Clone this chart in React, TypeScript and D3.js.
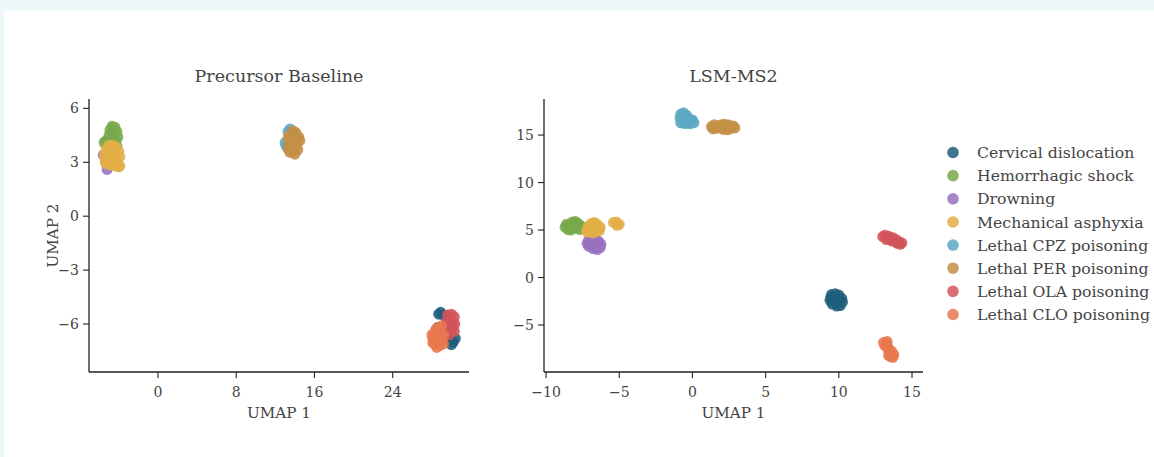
import React from "react";
import * as d3 from "d3";

type Pt = [number, number];

const classes = [
  "Cervical dislocation",
  "Hemorrhagic shock",
  "Drowning",
  "Mechanical asphyxia",
  "Lethal CPZ poisoning",
  "Lethal PER poisoning",
  "Lethal OLA poisoning",
  "Lethal CLO poisoning",
];
const palette = ["#1f5e7c", "#78a84a", "#9a70c0", "#e2ae46", "#5ca8c4", "#c38f46", "#d3535a", "#e8784e"];

// Precursor Baseline embedding, one list per class
const baseCervical: Pt[] = [[28.7, -5.45], [28.9, -5.35], [29.2, -5.5], [30.2, -7.0], [30.4, -6.8], [29.5, -6.0], [28.6, -6.2], [29.8, -6.9], [30.0, -7.15]];
const baseHemorrhagic: Pt[] = [[-4.7, 5.0], [-4.4, 4.95], [-4.9, 4.8], [-4.2, 4.7], [-4.5, 4.6], [-5.0, 4.5], [-4.1, 4.4], [-5.3, 4.2], [-4.7, 4.3], [-4.3, 4.15], [-5.5, 4.1], [-4.9, 4.0], [-4.2, 3.9], [-5.0, 3.7]];
const baseDrowning: Pt[] = [[-5.2, 2.6], [-5.6, 3.4], [-5.3, 3.0], [-4.9, 3.2]];
const baseMechanical: Pt[] = [[-5.0, 3.95], [-4.6, 3.95], [-4.3, 3.85], [-5.3, 3.7], [-4.0, 3.6], [-4.8, 3.6], [-5.5, 3.4], [-4.4, 3.4], [-3.9, 3.3], [-5.1, 3.25], [-4.7, 3.1], [-5.4, 3.0], [-4.2, 3.0], [-4.9, 2.85], [-4.4, 2.8], [-3.9, 2.8], [-5.2, 2.9], [-4.6, 3.5], [-4.0, 2.75]];
const baseCPZ: Pt[] = [[13.5, 4.85], [13.3, 4.7], [13.0, 4.1], [13.1, 3.9], [13.6, 4.3], [14.0, 4.5], [13.4, 3.7]];
const basePER: Pt[] = [[13.8, 4.75], [14.1, 4.65], [13.5, 4.55], [14.4, 4.4], [13.3, 4.35], [13.9, 4.3], [14.5, 4.2], [13.4, 4.0], [14.2, 4.0], [13.7, 3.95], [13.3, 3.75], [14.3, 3.7], [13.8, 3.6], [14.0, 3.45], [13.5, 3.55], [13.9, 4.1]];
const baseOLA: Pt[] = [[29.6, -5.5], [30.0, -5.45], [30.3, -5.6], [29.5, -5.9], [29.9, -5.85], [30.35, -6.0], [29.6, -6.3], [30.0, -6.3], [30.3, -6.4], [29.8, -6.6], [29.4, -6.1], [30.1, -6.1]];
const baseCLO: Pt[] = [[28.6, -6.2], [29.0, -6.1], [28.3, -6.5], [28.8, -6.5], [29.2, -6.6], [28.1, -6.8], [28.6, -6.8], [29.0, -6.9], [28.3, -7.1], [28.8, -7.2], [28.5, -7.3], [29.2, -7.1], [28.0, -6.6], [28.4, -6.3], [28.1, -7.05]];

// LSM-MS2 embedding, one list per class
const lsmCervical: Pt[] = [[9.5, -1.8], [9.75, -1.7], [10.0, -1.85], [10.2, -2.2], [10.25, -2.6], [10.1, -2.95], [9.85, -3.0], [9.55, -2.8], [9.4, -2.4], [9.45, -2.1], [9.8, -2.3], [9.95, -2.6], [9.7, -2.6]];
const lsmHemorrhagic: Pt[] = [[-8.7, 5.3], [-8.6, 5.6], [-8.5, 5.05], [-8.3, 5.5], [-8.2, 5.85], [-8.0, 5.9], [-7.8, 5.7], [-7.6, 5.4], [-7.7, 5.05], [-8.0, 5.2], [-8.3, 5.0], [-7.9, 5.5], [-8.45, 5.35], [-7.5, 5.25]];
const lsmDrowning: Pt[] = [[-7.1, 3.9], [-6.9, 4.05], [-6.6, 4.0], [-6.4, 3.8], [-6.25, 3.5], [-6.3, 3.15], [-6.5, 2.95], [-6.8, 3.05], [-7.1, 3.3], [-7.2, 3.6], [-6.7, 3.5], [-6.5, 3.3], [-6.9, 3.6]];
const lsmMechanical: Pt[] = [[-7.2, 5.0], [-7.1, 5.4], [-6.9, 5.7], [-6.7, 5.8], [-6.5, 5.6], [-6.3, 5.3], [-6.35, 4.95], [-6.6, 4.8], [-6.9, 4.75], [-7.0, 5.2], [-6.7, 5.3], [-6.5, 5.05], [-6.8, 4.7], [-7.2, 4.8], [-5.4, 5.8], [-5.15, 5.5], [-5.2, 5.85], [-5.0, 5.6]];
const lsmCPZ: Pt[] = [[-0.8, 17.2], [-0.6, 17.35], [-0.4, 17.1], [-0.85, 16.8], [-0.55, 16.75], [-0.25, 16.7], [-0.05, 16.5], [0.1, 16.3], [-0.3, 16.3], [-0.7, 16.4], [-0.5, 16.2], [-0.15, 16.2], [-0.8, 16.3], [0.0, 16.6], [-0.45, 16.5]];
const lsmPER: Pt[] = [[1.3, 15.9], [1.5, 16.1], [1.6, 15.7], [1.8, 15.95], [2.0, 16.1], [2.1, 15.6], [2.3, 15.85], [2.5, 16.05], [2.6, 15.7], [2.8, 15.95], [2.9, 15.75], [2.2, 16.15], [1.4, 15.65], [2.4, 15.55], [1.9, 15.75]];
const lsmOLA: Pt[] = [[13.0, 4.3], [13.15, 4.45], [13.3, 4.2], [13.4, 4.35], [13.55, 4.1], [13.7, 4.2], [13.8, 3.9], [13.95, 3.95], [14.1, 3.7], [14.3, 3.65], [14.2, 3.5], [13.6, 3.85], [13.25, 4.0], [14.0, 3.6], [13.9, 3.75]];
const lsmCLO: Pt[] = [[13.05, -6.85], [13.3, -6.75], [13.15, -7.2], [13.35, -7.35], [13.4, -7.7], [13.6, -7.75], [13.75, -8.1], [13.55, -8.35], [13.4, -8.2], [13.7, -8.4], [13.25, -7.0]];

const baseSeries = [baseCervical, baseHemorrhagic, baseDrowning, baseMechanical, baseCPZ, basePER, baseOLA, baseCLO];
const lsmSeries = [lsmCervical, lsmHemorrhagic, lsmDrowning, lsmMechanical, lsmCPZ, lsmPER, lsmOLA, lsmCLO];

const baseXTicks = [0, 8, 16, 24];
const baseYTicks = [-6, -3, 0, 3, 6];
const lsmXTicks = [-10, -5, 0, 5, 10, 15];
const lsmYTicks = [-5, 0, 5, 10, 15];

const FONT = "'DejaVu Serif', serif";
const TEXT = "#444";
const AXIS = "#222";

const fmt = (v: number) => (v < 0 ? "\u2212" + Math.abs(v) : String(v));

interface PanelProps {
  title: string;
  left: number;
  right: number;
  top: number;
  bottom: number;
  xDomain: [number, number];
  yDomain: [number, number];
  xTicks: number[];
  yTicks: number[];
  series: Pt[][];
  yLabel?: string;
}

function Panel(p: PanelProps) {
  const x = d3.scaleLinear().domain(p.xDomain).range([p.left, p.right]);
  const y = d3.scaleLinear().domain(p.yDomain).range([p.bottom, p.top]);
  const cx = (p.left + p.right) / 2;
  return (
    <g>
      <text x={cx} y={82} textAnchor="middle" fontFamily={FONT} fontSize={17.5} fill={TEXT}>
        {p.title}
      </text>
      {p.series.map((pts, i) => (
        <g key={i} fill={palette[i]} fillOpacity={0.88}>
          {pts.map((d, j) => (
            <circle key={j} cx={x(d[0])} cy={y(d[1])} r={5.5} />
          ))}
        </g>
      ))}
      <line x1={p.left} x2={p.left} y1={p.top} y2={p.bottom} stroke={AXIS} strokeWidth={1.3} />
      <line x1={p.left} x2={p.right} y1={p.bottom} y2={p.bottom} stroke={AXIS} strokeWidth={1.3} />
      {p.xTicks.map((t) => (
        <g key={"x" + t}>
          <line x1={x(t)} x2={x(t)} y1={p.bottom} y2={p.bottom + 6} stroke={AXIS} strokeWidth={1.1} />
          <text x={x(t)} y={397} textAnchor="middle" fontFamily={FONT} fontSize={14} fill={TEXT}>
            {fmt(t)}
          </text>
        </g>
      ))}
      {p.yTicks.map((t) => (
        <g key={"y" + t}>
          <line x1={p.left - 6} x2={p.left} y1={y(t)} y2={y(t)} stroke={AXIS} strokeWidth={1.1} />
          <text x={p.left - 10} y={y(t)} dy="0.36em" textAnchor="end" fontFamily={FONT} fontSize={14} fill={TEXT}>
            {fmt(t)}
          </text>
        </g>
      ))}
      <text x={cx} y={418} textAnchor="middle" fontFamily={FONT} fontSize={15.2} fill={TEXT}>
        UMAP 1
      </text>
      {p.yLabel && (
        <text
          transform={`translate(58,${(p.top + p.bottom) / 2}) rotate(-90)`}
          textAnchor="middle"
          fontFamily={FONT}
          fontSize={15.2}
          fill={TEXT}
        >
          {p.yLabel}
        </text>
      )}
    </g>
  );
}

export default function App() {
  const legendY = d3.scaleLinear().domain([0, 7]).range([152.5, 314.5]);
  return (
    <div style={{ position: "fixed", left: 0, top: 0, width: 1154, height: 457 }}>
      <svg width={1154} height={457} style={{ display: "block" }}>
        <rect x={0} y={0} width={1154} height={457} fill="#eef7f9" />
        <rect x={4} y={11} width={1150} height={446} fill="#ffffff" />
        <Panel
          title="Precursor Baseline"
          left={89}
          right={469}
          top={99}
          bottom={372}
          xDomain={[-7.05, 31.8]}
          yDomain={[-8.67, 6.52]}
          xTicks={baseXTicks}
          yTicks={baseYTicks}
          series={baseSeries}
          yLabel="UMAP 2"
        />
        <Panel
          title="LSM-MS2"
          left={544}
          right={923}
          top={99}
          bottom={372}
          xDomain={[-10.14, 15.75]}
          yDomain={[-9.95, 18.8]}
          xTicks={lsmXTicks}
          yTicks={lsmYTicks}
          series={lsmSeries}
        />
        <g>
          {classes.map((c, i) => (
            <g key={c}>
              <circle cx={953} cy={legendY(i)} r={5.8} fill={palette[i]} fillOpacity={0.85} />
              <text x={977} y={legendY(i)} dy="0.36em" fontFamily={FONT} fontSize={15.7} fill={TEXT}>
                {c}
              </text>
            </g>
          ))}
        </g>
      </svg>
    </div>
  );
}
